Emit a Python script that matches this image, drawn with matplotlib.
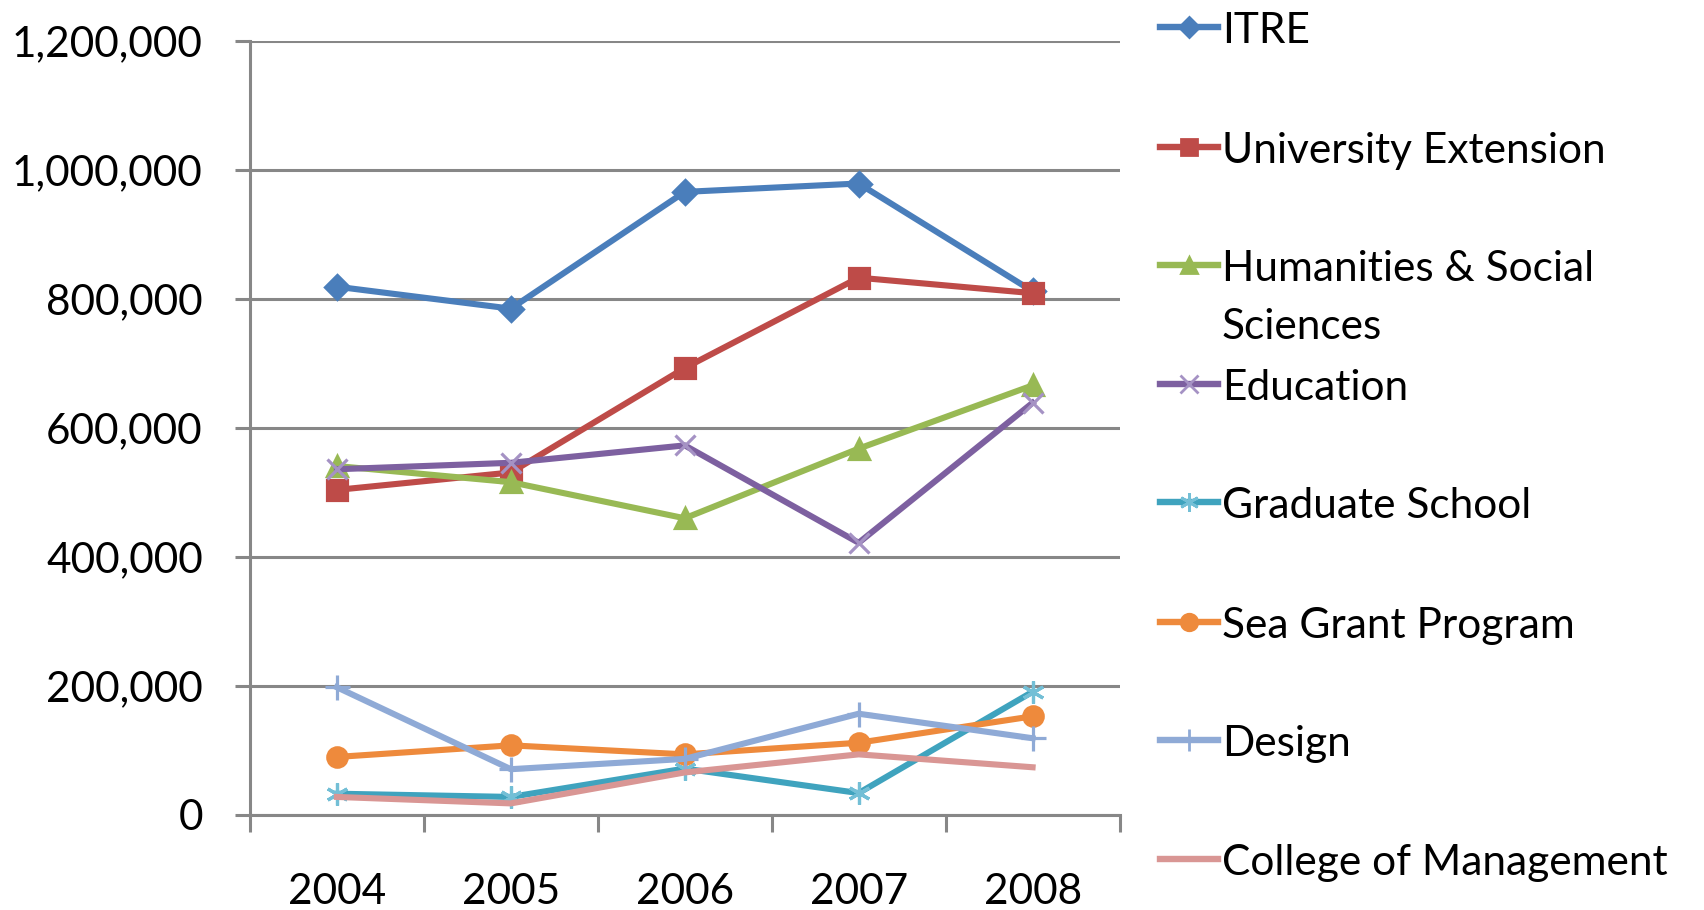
import matplotlib
matplotlib.use("Agg")
import matplotlib.pyplot as plt
from matplotlib.lines import Line2D
from matplotlib.ticker import FuncFormatter

plt.rcParams['font.family'] = ['Lato', 'DejaVu Sans']

# data
years = ['2004', '2005', '2006', '2007', '2008']
labels = ['ITRE', 'University Extension', 'Humanities & Social\nSciences', 'Education',
          'Graduate School', 'Sea Grant Program', 'Design', 'College of Management']
itre = [819000, 785000, 966000, 979000, 812000]
univ_ext = [504000, 531000, 693000, 833000, 809000]
humanities = [541000, 516000, 460000, 568000, 666000]
education = [536000, 546000, 573000, 422000, 639000]
graduate = [33000, 28000, 72000, 34000, 191000]
sea_grant = [90000, 108000, 94000, 112000, 153000]
design = [198000, 71000, 87000, 157000, 119000]
management = [28000, 18000, 66000, 94000, 74000]

series = [itre, univ_ext, humanities, education, graduate, sea_grant, design, management]

# styles
colors = ['#4A7EBB', '#BE4B48', '#98B954', '#7D60A0', '#3FA3BE', '#EE8A3C', '#8FAAD6', '#D99694']
edge = ['#4A7EBB', '#BE4B48', '#98B954', '#A592C4', '#73BFD6', '#EE8A3C', '#8FAAD6', '#D99694']
markers = ['D', 's', '^', 'x', (6, 2, 0), 'o', '+', None]
msizes = [12, 14, 14, 15, 16, 14, 18, 0]
grid_col = '#878787'
fs = 30.5

fig = plt.figure(figsize=(17.04, 9.10), dpi=100)
ax = fig.add_axes([0.1467, 0.1044, 0.5103, 0.8506])

x = list(range(len(years)))
for vals, c, ec, m, ms in zip(series, colors, edge, markers, msizes):
    ax.plot(x, vals, color=c, lw=4.4, marker=m, ms=ms, mfc=c, mec=ec, mew=2.3,
            solid_joinstyle='round', zorder=3)

ax.set_xlim(-0.5, 4.5)
ax.set_ylim(0, 1200000)
ax.set_yticks(range(0, 1200001, 200000))
ax.yaxis.set_major_formatter(FuncFormatter(lambda v, p: f'{v:,.0f}'))
ax.set_xticks(x)
ax.set_xticklabels(years)
ax.set_xticks([i - 0.5 for i in range(len(years) + 1)], minor=True)

ax.grid(axis='y', color=grid_col, lw=2.2)
ax.set_axisbelow(True)
for s in ['top', 'right']:
    ax.spines[s].set_visible(False)
for s in ['left', 'bottom']:
    ax.spines[s].set_color(grid_col)
    ax.spines[s].set_linewidth(2.2)

ax.tick_params(axis='x', which='major', length=0, pad=42, labelsize=fs)
ax.tick_params(axis='x', which='minor', length=12, width=2.2, color=grid_col)
ax.tick_params(axis='y', length=11, width=2.2, color=grid_col, pad=23, labelsize=fs)

# legend drawn by hand to keep Excel's even spacing
leg_y = [27, 147, 265, 384, 502, 622, 740, 859]
line_gap = 57.6
for lab, c, ec, m, ms, py in zip(labels, colors, edge, markers, msizes, leg_y):
    yf = 1 - py / 910
    fig.add_artist(Line2D([1160 / 1704, 1189 / 1704, 1218 / 1704], [yf, yf, yf],
                          transform=fig.transFigure, color=c, lw=4.6, marker=m,
                          ms=ms * 0.85, mfc=c, mec=ec, mew=2.0, markevery=[1]))
    for k, part in enumerate(lab.split('\n')):
        fig.text(1222 / 1704, 1 - (py + 4 + k * line_gap) / 910, part, fontsize=fs,
                 va='center', ha='left')

fig.savefig('out.png', dpi=100)
